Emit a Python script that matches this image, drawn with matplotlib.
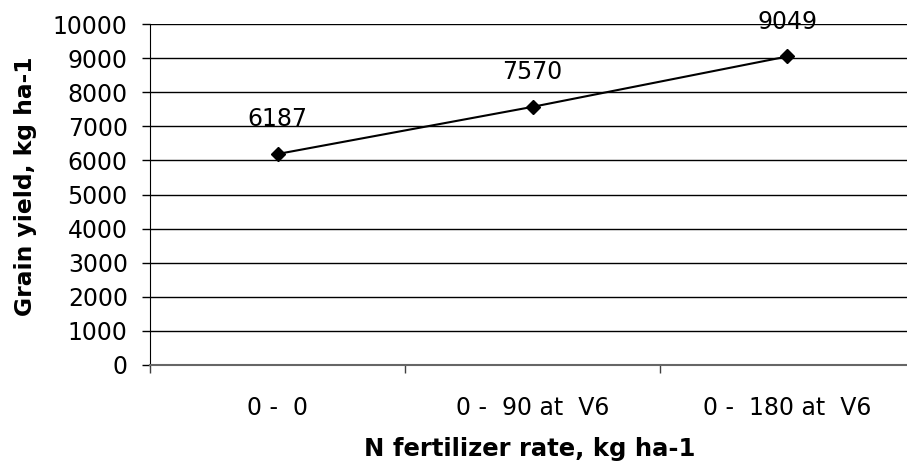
import matplotlib
matplotlib.use("Agg")
import matplotlib.pyplot as plt
from matplotlib.ticker import FixedLocator, MultipleLocator

categories = ['0 -  0', '0 -  90 at  V6', '0 -  180 at  V6']
grain_yield = [6187, 7570, 9049]

fig = plt.figure(figsize=(9.07, 4.69), dpi=100)
ax = fig.add_axes([150 / 907, 1 - 365 / 469, 765 / 907, 341 / 469])

x = list(range(len(categories)))
ax.plot(x, grain_yield, color='black', lw=1.5, marker='D', markersize=7,
        markerfacecolor='black', markeredgecolor='black', zorder=3)

# Wertebeschriftung ueber den Punkten
for xi, v in zip(x, grain_yield):
    ax.annotate(str(v), (xi, v), xytext=(0, 25), textcoords='offset points',
                ha='center', va='center', fontsize=17, family='DejaVu Sans')

ax.set_xlim(-0.5, len(categories) - 0.5)
ax.set_ylim(0, 10000)
ax.yaxis.set_major_locator(MultipleLocator(1000))
ax.grid(axis='y', color='black', lw=1)
ax.set_axisbelow(True)

ax.set_xticks(x)
ax.set_xticklabels(categories, fontsize=17, family='DejaVu Sans')
ax.xaxis.set_minor_locator(FixedLocator([-0.5, 0.5, 1.5]))
ax.tick_params(axis='x', which='major', length=0, pad=22)
ax.tick_params(axis='x', which='minor', length=6, width=1, color='#404040')
ax.tick_params(axis='y', length=6, width=1, pad=10, labelsize=17)
for lab in ax.get_yticklabels():
    lab.set_family('DejaVu Sans')

for s in ['top', 'right']:
    ax.spines[s].set_visible(False)
ax.spines['left'].set_color('black')
ax.spines['bottom'].set_color('#666666')
ax.spines['bottom'].set_linewidth(1.5)

ax.set_xlabel('N fertilizer rate, kg ha-1', fontsize=17.5, fontweight='bold',
              family='DejaVu Sans', va='center')
ax.set_ylabel('Grain yield, kg ha-1', fontsize=16.8, fontweight='bold',
              family='DejaVu Sans', va='center')
ax.xaxis.set_label_coords((530 - 150) / 765, (365 - 449) / 341)
ax.yaxis.set_label_coords(-(150 - 25) / 765, (365 - 186) / 341)

fig.savefig('out.png', dpi=100)
